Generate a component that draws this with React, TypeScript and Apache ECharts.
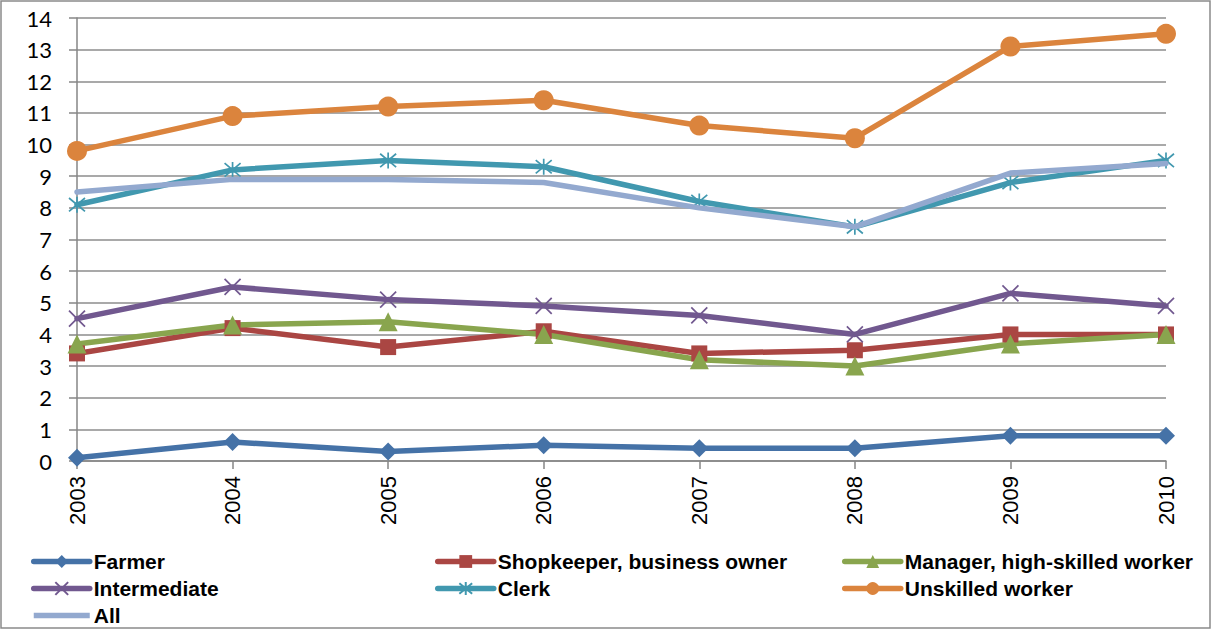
import React, { useEffect, useRef } from "react";
import * as echarts from "echarts";

const years = ["2003", "2004", "2005", "2006", "2007", "2008", "2009", "2010"];
const farmer = [0.1, 0.6, 0.3, 0.5, 0.4, 0.4, 0.8, 0.8];
const shopkeeper = [3.4, 4.2, 3.6, 4.1, 3.4, 3.5, 4.0, 4.0];
const manager = [3.7, 4.3, 4.4, 4.0, 3.2, 3.0, 3.7, 4.0];
const intermediate = [4.5, 5.5, 5.1, 4.9, 4.6, 4.0, 5.3, 4.9];
const clerk = [8.1, 9.2, 9.5, 9.3, 8.2, 7.4, 8.8, 9.5];
const unskilled = [9.8, 10.9, 11.2, 11.4, 10.6, 10.2, 13.1, 13.5];
const all = [8.5, 8.9, 8.9, 8.8, 8.0, 7.4, 9.1, 9.4];

const names = [
  "Farmer",
  "Shopkeeper, business owner",
  "Manager, high-skilled worker",
  "Intermediate",
  "Clerk",
  "Unskilled worker",
  "All",
];

const X_PATH = "path://M0,0L10,10M10,0L0,10";
const STAR_PATH = "path://M0,0L10,10M10,0L0,10M5,-1L5,11";
const BAR_ICON = "path://M0,5.25L0,10.75L56,10.75L56,5.25Z M0,0L0.01,0 M0,16L0.01,16";

export default function App() {
  const ref = useRef<HTMLDivElement>(null);
  useEffect(() => {
    const chart = echarts.init(ref.current!, null, { renderer: "svg" });
    const lineSeries = (name: string, data: number[], color: string, symbol: string, size: number, stroke = false, z = 2) => ({
      name,
      type: "line",
      data,
      symbol,
      symbolSize: size,
      z,
      lineStyle: { color, width: 5.5, cap: "round", join: "round" },
      itemStyle: stroke
        ? { color: "rgba(0,0,0,0)", borderColor: color, borderWidth: 1.7 }
        : { color, borderColor: color, borderWidth: 0 },
    });
    const legendText = {
      fontFamily: "Liberation Sans, sans-serif",
      fontWeight: "bold",
      fontSize: 21,
      lineHeight: 20,
      color: "#000",
      padding: [0, 0, 0, -1],
    };
    const legendCommon = {
      orient: "vertical",
      top: 551,
      padding: 0,
      itemWidth: 56,
      itemHeight: 16,
      itemGap: 6,
      textStyle: legendText,
      lineStyle: { width: 5.5, cap: "round" },
      selectedMode: false,
    };
    chart.setOption({
      animation: false,
      backgroundColor: "#fff",
      grid: { left: 77, right: 46, top: 18, bottom: 169 },
      xAxis: {
        type: "category",
        data: years,
        boundaryGap: false,
        axisLine: { lineStyle: { color: "#868686", width: 1.5 } },
        axisTick: { show: true, alignWithLabel: true, length: 8, lineStyle: { color: "#868686", width: 1.5 } },
        axisLabel: {
          rotate: 90,
          margin: 15,
          fontSize: 22,
          color: "#000",
          fontFamily: "Liberation Sans, sans-serif",
        },
        splitLine: { show: false },
      },
      yAxis: {
        type: "value",
        min: 0,
        max: 14,
        interval: 1,
        axisLine: { show: true, lineStyle: { color: "#868686", width: 1.5 } },
        axisTick: { show: true, length: 8, lineStyle: { color: "#868686", width: 1.5 } },
        axisLabel: { fontSize: 22, color: "#000", margin: 25, fontFamily: "Lato, sans-serif" },
        splitLine: { lineStyle: { color: "#8c8c8c", width: 1.5 } },
      },
      legend: [
        {
          ...legendCommon,
          left: 31,
          data: [
            names[0],
            names[3],
            { name: names[6], icon: BAR_ICON, itemStyle: { color: "#93A9CF", borderWidth: 0 } },
          ],
        },
        { ...legendCommon, left: 435, data: [names[1], names[4]] },
        { ...legendCommon, left: 842, data: [names[2], names[5]] },
      ],
      graphic: [
        {
          type: "rect",
          shape: { x: 1, y: 1, width: 1209, height: 627 },
          style: { fill: "none", stroke: "#8a8a8a", lineWidth: 1.5 },
          silent: true,
        },
      ],
      series: [
        lineSeries(names[0], farmer, "#4572A7", "diamond", 18),
        lineSeries(names[1], shopkeeper, "#AA4643", "rect", 16),
        lineSeries(names[2], manager, "#89A54E", "triangle", 19),
        lineSeries(names[3], intermediate, "#71588F", X_PATH, 16, true),
        lineSeries(names[4], clerk, "#4198AF", STAR_PATH, 16, true),
        lineSeries(names[5], unskilled, "#DB843D", "circle", 20),
        lineSeries(names[6], all, "#93A9CF", "none", 0, false, 3),
      ],
    });
    return () => chart.dispose();
  }, []);
  return (
    <div
      ref={ref}
      style={{ position: "fixed", left: 0, top: 0, width: 1212, height: 630 }}
    />
  );
}
